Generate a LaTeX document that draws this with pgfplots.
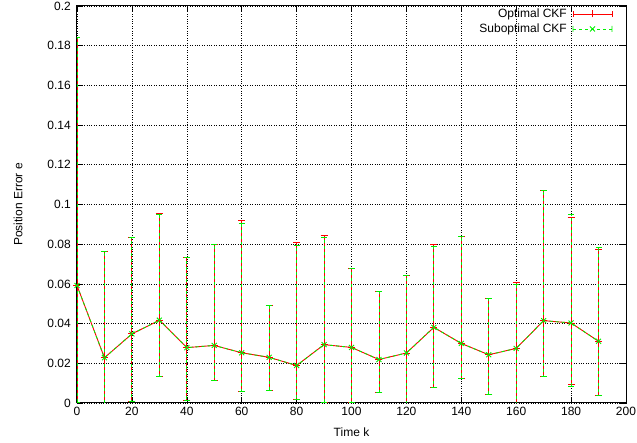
\documentclass[border=0pt]{standalone}
\usepackage{fontspec}
\setmainfont{Liberation Sans}
\usepackage{pgfplots}
\usepackage{pgfplotstable}
\pgfplotsset{compat=1.18}
\definecolor{gpRed}{HTML}{FF0000}
\definecolor{gpGreen}{HTML}{00F000}

% k, mean error, upper end, lower end
\pgfplotstableread{
k    e       hi      lo
0    0.0592  0.1843  0.0005
10   0.0228  0.0763  0.0000
20   0.0348  0.0832  0.0010
30   0.0417  0.0954  0.0132
40   0.0279  0.0731  0.0012
50   0.0290  0.0798  0.0113
60   0.0253  0.0922  0.0057
70   0.0230  0.0491  0.0061
80   0.0189  0.0810  0.0017
90   0.0294  0.0846  0.0003
100  0.0280  0.0679  0.0002
110  0.0219  0.0560  0.0054
120  0.0252  0.0643  0.0000
130  0.0381  0.0797  0.0076
140  0.0300  0.0837  0.0125
150  0.0243  0.0528  0.0042
160  0.0275  0.0609  0.0000
170  0.0415  0.1073  0.0132
180  0.0403  0.0934  0.0095
190  0.0311  0.0772  0.0036
}\optimal

\pgfplotstableread{
k    e       hi      lo
0    0.0592  0.1843  0.0005
10   0.0228  0.0763  0.0000
20   0.0348  0.0832  0.0010
30   0.0417  0.0950  0.0132
40   0.0279  0.0731  0.0012
50   0.0290  0.0798  0.0113
60   0.0253  0.0905  0.0057
70   0.0230  0.0491  0.0061
80   0.0189  0.0793  0.0017
90   0.0294  0.0832  0.0003
100  0.0280  0.0679  0.0002
110  0.0219  0.0560  0.0054
120  0.0252  0.0643  0.0000
130  0.0381  0.0787  0.0076
140  0.0300  0.0837  0.0125
150  0.0243  0.0528  0.0042
160  0.0275  0.0599  0.0000
170  0.0415  0.1070  0.0132
180  0.0403  0.0949  0.0085
190  0.0311  0.0785  0.0036
}\suboptimal

\pgfplotstablecreatecol[expr={\thisrow{hi}-\thisrow{e}}]{ep}\optimal
\pgfplotstablecreatecol[expr={\thisrow{e}-\thisrow{lo}}]{em}\optimal
\pgfplotstablecreatecol[expr={\thisrow{hi}-\thisrow{e}}]{ep}\suboptimal
\pgfplotstablecreatecol[expr={\thisrow{e}-\thisrow{lo}}]{em}\suboptimal

\begin{document}
\fontsize{12}{14}\selectfont
\begin{tikzpicture}
\begin{axis}[
  scale only axis,
  width=549pt,
  height=397pt,
  xmin=0, xmax=200,
  ymin=0, ymax=0.2,
  xtick distance=20,
  ytick={0,0.02,...,0.2},
  scaled y ticks=false,
  /pgf/number format/.cd, fixed, precision=2, assume math mode=true,
  /pgfplots/.cd,
  tick align=inside,
  major tick length=6pt,
  tick style={black, line width=0.6pt},
  axis line style={black, line width=1pt},
  grid=major,
  major grid style={black, dotted, line width=0.6pt},
  tick label style={font=\fontsize{12}{14}\selectfont},
  yticklabel style={xshift=-2pt},
  xlabel={Time k},
  ylabel={Position Error e},
  label style={font=\fontsize{12}{14}\selectfont},
  xlabel style={at={(axis description cs:0.5,0)}, anchor=center, yshift=-29pt},
  ylabel style={at={(axis description cs:-0.1075,0.5)}, anchor=center},
]
\addplot[gpRed, line width=0.9pt, mark=+, mark size=3.5pt,
  error bars/y dir=both, error bars/y explicit,
  error bars/error mark=-,
  error bars/error mark options={gpRed, mark size=3.5pt, line width=0.9pt, rotate=90},
  error bars/error bar style={gpRed, line width=0.9pt}]
  table[x=k, y=e, y error plus=ep, y error minus=em] {\optimal};
\addplot[gpGreen, line width=0.9pt, dash pattern=on 3pt off 3pt, mark=x, mark size=3.5pt,
  mark options={solid},
  error bars/y dir=both, error bars/y explicit,
  error bars/error mark=-,
  error bars/error mark options={gpGreen, solid, mark size=3pt, line width=0.9pt, rotate=90},
  error bars/error bar style={gpGreen, line width=0.9pt, dash pattern=on 3pt off 3pt}]
  table[x=k, y=e, y error plus=ep, y error minus=em] {\suboptimal};
\end{axis}
% legend (axis box has its lower left corner at the origin)
\node[anchor=east, inner sep=0pt, font=\fontsize{12}{14}\selectfont] at (490pt,389pt) {Optimal CKF};
\node[anchor=east, inner sep=0pt, font=\fontsize{12}{14}\selectfont] at (490pt,374pt) {Suboptimal CKF};
\draw[gpRed, line width=0.9pt]
  (496pt,389pt) -- (535pt,389pt)
  (496pt,386pt) -- (496pt,392pt)
  (535pt,386pt) -- (535pt,392pt)
  (515.5pt,385.5pt) -- (515.5pt,392.5pt)
  (512pt,389pt) -- (519pt,389pt);
\draw[gpGreen, line width=0.9pt, dash pattern=on 3pt off 3pt]
  (496pt,374pt) -- (535pt,374pt);
\draw[gpGreen, line width=0.9pt]
  (496pt,371pt) -- (496pt,377pt)
  (535pt,371pt) -- (535pt,377pt)
  (513pt,371.5pt) -- (518pt,376.5pt)
  (513pt,376.5pt) -- (518pt,371.5pt);
\pgfresetboundingbox
\path (-77pt,-40pt) rectangle (560pt,403pt);
\end{tikzpicture}
\end{document}
